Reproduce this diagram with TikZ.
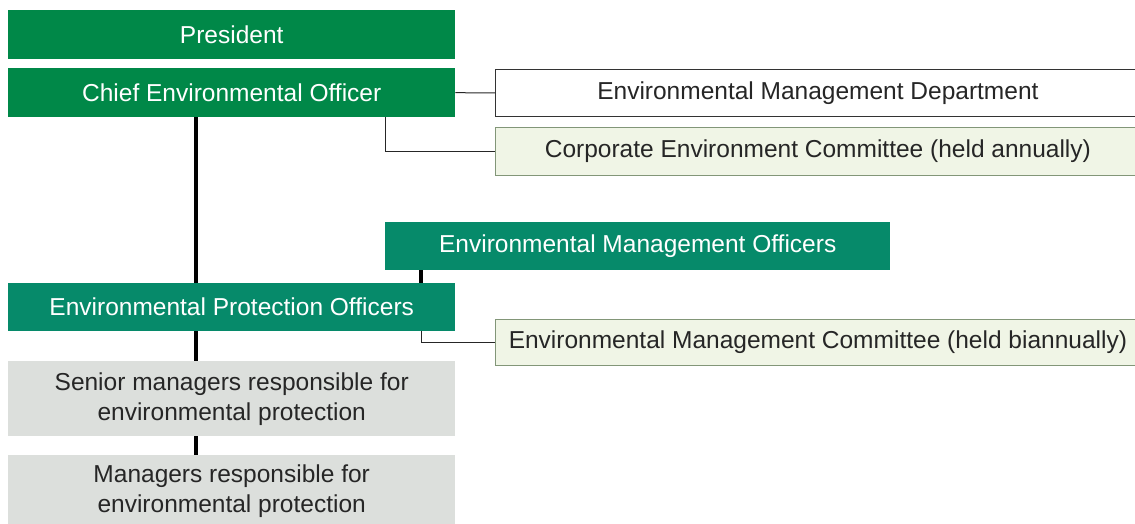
\documentclass[tikz,border=0pt]{standalone}
\usepackage{fontspec}
\setmainfont{Liberation Sans}
\begin{document}
\begin{tikzpicture}[x=1pt,y=-1pt,
  box/.style={draw=none,inner sep=0pt,anchor=north west,font=\fontsize{24.5}{30}\selectfont,align=center},
  topgreen/.style={box,fill=cgreen,text=white},
  teal/.style={box,fill=cteal,text=white},
  whitebox/.style={box,fill=white,draw=black!80,line width=0.8pt,text=black!85},
  commbox/.style={box,fill=cpale,draw=cborder,line width=0.8pt,text=black!85},
  graybox/.style={box,fill=cgray,text=black!85,font=\fontsize{24.5}{30}\selectfont},
  thin/.style={draw=black!85,line width=1pt},
  thick/.style={draw=black,line width=4pt}]
\definecolor{cgreen}{RGB}{0,136,72}
\definecolor{cteal}{RGB}{6,138,106}
\definecolor{cpale}{RGB}{240,245,230}
\definecolor{cborder}{RGB}{130,150,120}
\definecolor{cgray}{RGB}{220,223,220}
\useasboundingbox (0,0) rectangle (1135,524);
\node[topgreen,minimum width=447pt,minimum height=49pt] (pres) at (8,10) {President};
\node[topgreen,minimum width=447pt,minimum height=49pt] (ceo) at (8,68) {Chief Environmental Officer};
\node[whitebox,minimum width=645pt,minimum height=47pt] (emd) at (495,69) {Environmental Management Department};
\node[commbox,minimum width=645pt,minimum height=48pt] (cec) at (495,127) {Corporate Environment Committee (held annually)};
\node[teal,minimum width=505pt,minimum height=48pt] (emo) at (385,222) {Environmental Management Officers};
\node[teal,minimum width=447pt,minimum height=48pt] (epo) at (8,283) {Environmental Protection Officers};
\node[commbox,minimum width=645pt,minimum height=46pt] (emc) at (495,319) {Environmental Management Committee (held biannually)};
\node[graybox,minimum width=447pt,minimum height=75pt] (sm) at (8,361) {Senior managers responsible for\\environmental protection};
\node[graybox,minimum width=447pt,minimum height=72pt] (mg) at (8,455) {Managers responsible for\\environmental protection};
\draw[thin] (ceo.east) -- (emd.west);
\draw[thin] (ceo.south west) ++(377,0) coordinate (c1) |- (cec.west);
\draw[thick] (ceo.south west) ++(188,0) coordinate (c2) -- (c2 |- epo.north);
\draw[thick] (emo.south west) ++(36,0) coordinate (c3) -- (c3 |- epo.north);
\draw[thin] (epo.south west) ++(413,0) coordinate (c4) |- (emc.west);
\draw[thick] (c2 |- epo.south) -- (c2 |- sm.north);
\draw[thick] (c2 |- sm.south) -- (c2 |- mg.north);
\end{tikzpicture}
\end{document}
